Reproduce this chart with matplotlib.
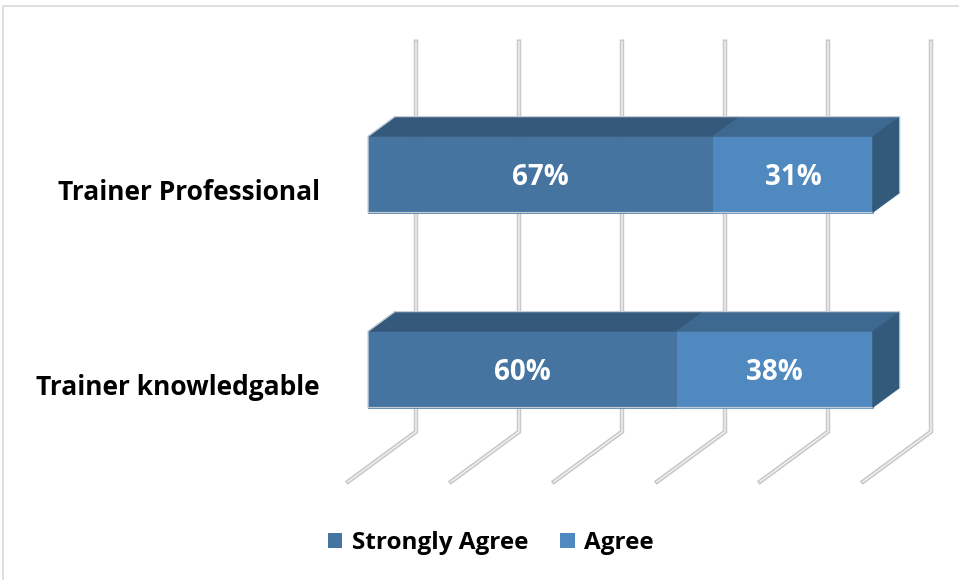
import matplotlib.pyplot as plt
from matplotlib.patches import Polygon, Rectangle, Patch
from matplotlib.transforms import IdentityTransform
import numpy as np

plt.rcParams['font.family'] = ['Open Sans', 'DejaVu Sans']

categories = ['Trainer knowledgable', 'Trainer Professional']
strongly_agree = [60, 67]
agree = [38, 31]
series_names = ['Strongly Agree', 'Agree']
grid_ticks = [0, 20, 40, 60, 80, 100]

front_colors = ['#44749F', '#4F89BF']
top_colors = ['#35597B', '#3D6990']
side_color = '#33597B'

fig = plt.figure(figsize=(9.59, 5.8), dpi=100)
fig.patch.set_facecolor('white')
fig.add_artist(Rectangle((3 / 959, -0.05), 1.2, 1 - 6 / 580 + 0.05, transform=fig.transFigure,
                         fill=False, edgecolor='#d9d9d9', lw=1.2))

ax = fig.add_axes([368 / 959, 113 / 580, 515 / 959, 390 / 580])
ax.set_xlim(0, 100)
ax.set_ylim(-0.5, 1.5)
ax.axis('off')

ident = IdentityTransform()
slope = 50 / 68.0


def disp(x, y, d=0.0):
    # data point -> pixel, pushed back by d pixels along the depth axis
    px, py = ax.transData.transform((x, y))
    return px + d, py + d * slope


# gridlines on the back wall + floor
for t in grid_ticks:
    b0 = disp(t, -0.5, 48)
    b1 = disp(t, 1.5, 48)
    f0 = disp(t, -0.5, -20)
    xs = [b1[0], b0[0], f0[0]]
    ys = [b1[1], b0[1], f0[1]]
    ax.plot(xs, ys, color='#c8c8c8', lw=3.2, transform=ident, clip_on=False, zorder=1,
            solid_joinstyle='miter')
    ax.plot(xs, ys, color='#f2f2f2', lw=1.0, transform=ident, clip_on=False, zorder=1.1)

ypos = np.arange(len(categories))
h = 0.39
depth = 27

lefts = np.zeros(len(categories))
for vals, fc, tc in zip([strongly_agree, agree], front_colors, top_colors):
    vals = np.array(vals, dtype=float)
    ax.barh(ypos, vals, left=lefts, height=h, color=fc, edgecolor=fc, lw=0.5, zorder=3)
    for i, y in enumerate(ypos):
        l, r = lefts[i], lefts[i] + vals[i]
        pts = [disp(l, y + h / 2), disp(r, y + h / 2), disp(r, y + h / 2, depth), disp(l, y + h / 2, depth)]
        ax.add_patch(Polygon(pts, closed=True, facecolor=tc, edgecolor=tc, lw=0.5,
                             transform=ident, clip_on=False, zorder=3))
        tx, ty = disp((l + r) / 2, y)
        ax.text(tx, ty - 3, '%d%%' % vals[i], color='white', fontsize=20, fontweight='bold',
                ha='center', va='center', transform=ident, zorder=5)
    lefts = lefts + vals

# right side faces + light outline around each 3D bar
for i, y in enumerate(ypos):
    r = lefts[i]
    pts = [disp(r, y - h / 2), disp(r, y + h / 2), disp(r, y + h / 2, depth), disp(r, y - h / 2, depth)]
    ax.add_patch(Polygon(pts, closed=True, facecolor=side_color, edgecolor=side_color, lw=0.5,
                         transform=ident, clip_on=False, zorder=3))
    outline = [disp(r, y - h / 2), disp(0, y - h / 2), disp(0, y + h / 2), disp(0, y + h / 2, depth),
               disp(r, y + h / 2, depth), disp(r, y - h / 2, depth), disp(r, y - h / 2)]
    ax.add_patch(Polygon(outline, closed=False, fill=False, edgecolor='#c3ccd5', lw=0.9,
                         transform=ident, clip_on=False, zorder=3.5))

# category labels sit on the front floor edge
for i, y in enumerate(ypos):
    px, py = disp(0, y, -20)
    ax.text(px - 28, py - 3, categories[i], transform=ident, fontsize=19, fontweight='bold',
            ha='right', va='center', color='black')

handles = [Patch(facecolor=c, edgecolor='none') for c in front_colors]
fig.legend(handles, series_names, loc='center', bbox_to_anchor=(491 / 959, 1 - 543 / 580),
           ncol=2, frameon=False, handlelength=0.6, handleheight=0.6, handletextpad=0.4,
           columnspacing=1.3, prop={'size': 17.5, 'weight': 'bold'})

fig.savefig('out.png', dpi=100)
